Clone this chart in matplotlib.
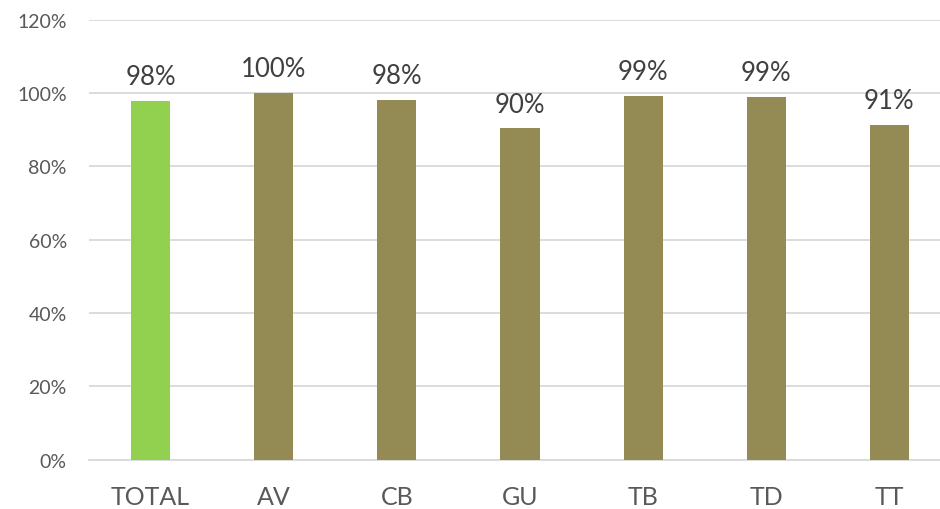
import matplotlib.pyplot as plt
import numpy as np

categories = ['TOTAL', 'AV', 'CB', 'GU', 'TB', 'TD', 'TT']
values = [97.8, 100.0, 98.1, 90.4, 99.3, 98.9, 91.3]
labels = ['98%', '100%', '98%', '90%', '99%', '99%', '91%']
colors = ['#92D050', '#948A54', '#948A54', '#948A54', '#948A54', '#948A54', '#948A54']

plt.rcParams['font.family'] = ['Lato', 'DejaVu Sans']

fig = plt.figure(figsize=(9.4, 5.1), dpi=100)
# axes run a little past the right edge of the picture, as in the reference
ax = fig.add_axes([89 / 940, 1 - 460.7 / 510, 862 / 940, 440 / 510])

x = np.arange(len(categories))
ax.bar(x, values, width=0.317, color=colors, zorder=3)

for xi, v, lab in zip(x, values, labels):
    ax.annotate(lab, xy=(xi, v), xytext=(0, 12), textcoords='offset points',
                ha='center', va='baseline', fontsize=18.5, color='#404040')

ax.set_ylim(0, 120)
ax.set_xlim(-0.5, len(categories) - 0.5)
ax.set_yticks(np.arange(0, 121, 20))
ax.set_yticklabels([f'{t}%' for t in range(0, 121, 20)], fontsize=14, color='#595959')
ax.set_xticks(x)
ax.set_xticklabels(categories, fontsize=18, color='#595959')
ax.tick_params(axis='y', length=0, pad=16)
ax.tick_params(axis='x', length=0, pad=18)
ax.grid(axis='y', color='#D9D9D9', linewidth=1.3, zorder=0)
for s in ['top', 'right', 'left']:
    ax.spines[s].set_visible(False)
ax.spines['bottom'].set_color('#D9D9D9')
ax.spines['bottom'].set_linewidth(1.3)

fig.savefig('out.png', dpi=100)
